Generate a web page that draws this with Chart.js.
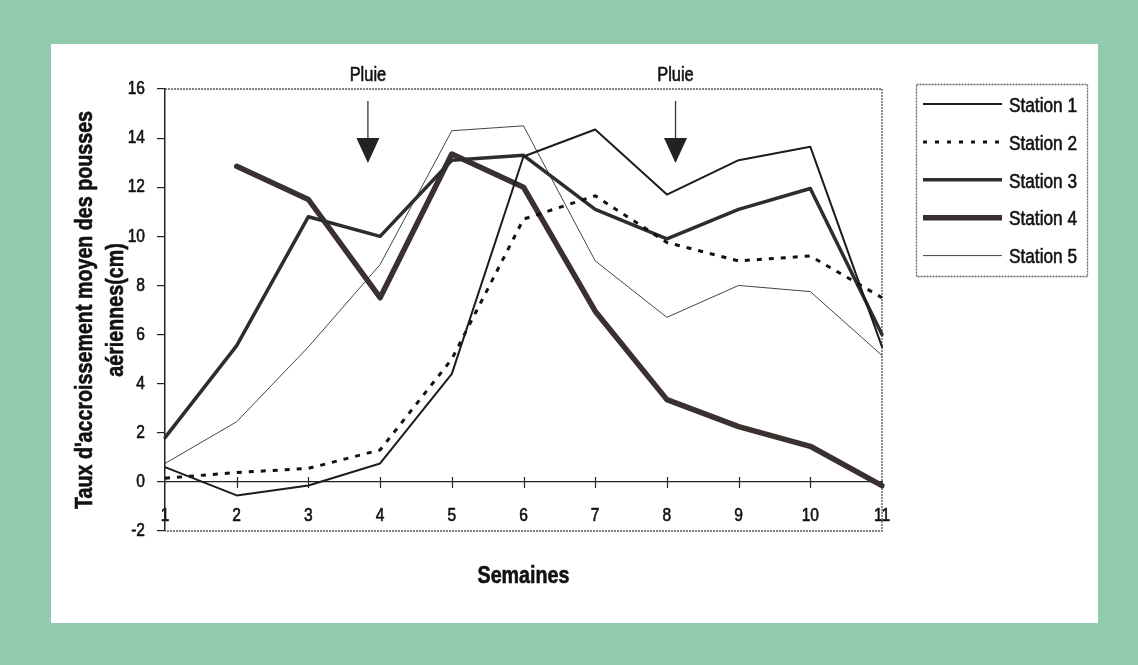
<!DOCTYPE html>
<html><head><meta charset="utf-8">
<script src="https://cdn.jsdelivr.net/npm/chart.js@4"></script>
<style>
html,body{margin:0;padding:0;}
body{width:1138px;height:665px;background:#90cbb0;position:relative;overflow:hidden;}
#panel{position:absolute;left:51px;top:44px;width:1047px;height:579px;background:#fff;}
#wrap{position:absolute;left:0;top:0;width:1138px;height:665px;}
</style></head><body>
<div id="panel"></div>
<div id="wrap"><canvas id="c" width="1138" height="665"></canvas></div>
<script>
const weeks = ['1','2','3','4','5','6','7','8','9','10','11'];
const station1 = [0.6, -0.55, -0.15, 0.75, 4.4, 13.25, 14.35, 11.7, 13.1, 13.65, 5.5];
const station2 = [0.15, 0.38, 0.55, 1.3, 5.0, 10.7, 11.65, 9.75, 9.0, 9.2, 7.5];
const station3 = [1.8, 5.55, 10.8, 10.0, 13.1, 13.3, 11.1, 9.9, 11.1, 11.95, 6.0];
const station4 = [null, 12.85, 11.5, 7.5, 13.35, 12.0, 6.95, 3.35, 2.25, 1.45, -0.15];
const station5 = [0.75, 2.45, 5.5, 8.85, 14.3, 14.5, 9.0, 6.7, 8.0, 7.75, 5.15];
const seriesNames = ['Station 1','Station 2','Station 3','Station 4','Station 5'];
const rainWeeks = [3.83, 8.12];
const rainLabel = 'Pluie';
const yTitle = ["Taux d'accroissement moyen des pousses", 'aériennes(cm)'];
const xTitle = 'Semaines';

const FAMILY = "'Liberation Sans Narrow', 'Arial Narrow', 'Liberation Sans', Arial, sans-serif";
Chart.defaults.font.family = FAMILY;
Chart.defaults.color = '#111';

// Condensed text rendering (narrow face is not installed): squeeze glyphs horizontally around their anchor.
const NARROW = 0.82;
const canvas = document.getElementById('c');
const c2d = canvas.getContext('2d');
const origFill = c2d.fillText.bind(c2d);
const origStroke = c2d.strokeText.bind(c2d);
const origMeasure = c2d.measureText.bind(c2d);
c2d.fillText = function(t, x, y, mw){
  this.save(); this.translate(x, y); this.scale(NARROW, 1);
  this.setLineDash([]);
  this.strokeStyle = this.fillStyle;
  this.lineWidth = 0.6;
  this.lineJoin = 'round';
  if (mw !== undefined) { origFill(t, 0, 0, mw / NARROW); origStroke(t, 0, 0, mw / NARROW); }
  else { origFill(t, 0, 0); origStroke(t, 0, 0); }
  this.restore();
};
c2d.measureText = function(t){
  const m = origMeasure(t);
  return {width: m.width * NARROW, actualBoundingBoxAscent: m.actualBoundingBoxAscent, actualBoundingBoxDescent: m.actualBoundingBoxDescent,
    actualBoundingBoxLeft: m.actualBoundingBoxLeft * NARROW, actualBoundingBoxRight: m.actualBoundingBoxRight * NARROW};
};

const styles = [
  {borderColor:'#1c1c1c', borderWidth:2, borderDash:[]},
  {borderColor:'#111', borderWidth:3, borderDash:[5,7]},
  {borderColor:'#2e2c2c', borderWidth:3.5, borderDash:[]},
  {borderColor:'#3a3030', borderWidth:5.5, borderDash:[]},
  {borderColor:'#444', borderWidth:1, borderDash:[]}
];
const allSeries = [station1, station2, station3, station4, station5];

const frame = {
  id:'frame',
  beforeDatasetsDraw(chart){
    const {ctx, chartArea:a, scales:{x,y}} = chart;
    ctx.save();
    ctx.strokeStyle = '#555';
    ctx.lineWidth = 1.3;
    ctx.setLineDash([2,1]);
    ctx.beginPath();
    ctx.moveTo(a.left, a.top); ctx.lineTo(a.right, a.top); ctx.lineTo(a.right, a.bottom); ctx.lineTo(a.left, a.bottom);
    ctx.stroke();
    ctx.setLineDash([]);
    const y0 = y.getPixelForValue(0);
    ctx.strokeStyle = '#222';
    ctx.lineWidth = 1.2;
    ctx.beginPath();
    for (let i = 1; i < weeks.length - 1; i++) {
      const px = Math.round(x.getPixelForValue(i)) + 0.5;
      ctx.moveTo(px, y0 - 5); ctx.lineTo(px, y0 + 6);
    }
    ctx.stroke();
    ctx.restore();
  },
  afterDraw(chart){
    const {ctx, scales:{x}} = chart;
    ctx.save();
    rainWeeks.forEach(w => {
      const px = x.getPixelForValue(w - 1);
      ctx.fillStyle = '#111';
      ctx.font = '20px ' + FAMILY;
      ctx.textAlign = 'center';
      ctx.textBaseline = 'middle';
      ctx.fillText(rainLabel, px, 75);
      ctx.strokeStyle = '#333';
      ctx.lineWidth = 1.3;
      ctx.beginPath(); ctx.moveTo(px, 101); ctx.lineTo(px, 140); ctx.stroke();
      ctx.fillStyle = '#222';
      ctx.beginPath(); ctx.moveTo(px - 11.5, 138); ctx.lineTo(px + 11.5, 138); ctx.lineTo(px, 163); ctx.closePath(); ctx.fill();
    });
    const L = 916.5, T = 84.5, W = 171, H = 192;
    ctx.strokeStyle = '#666';
    ctx.lineWidth = 1.3;
    ctx.setLineDash([2,1]);
    ctx.strokeRect(L, T, W, H);
    ctx.setLineDash([]);
    chart.data.datasets.forEach((ds, i) => {
      const cy = 104 + i * 37.9;
      ctx.strokeStyle = ds.borderColor;
      ctx.lineWidth = ds.borderWidth;
      ctx.setLineDash(ds.borderDash.length ? [4,8] : []);
      ctx.lineCap = 'butt';
      ctx.beginPath(); ctx.moveTo(923, cy); ctx.lineTo(1002, cy); ctx.stroke();
      ctx.setLineDash([]);
      ctx.fillStyle = '#111';
      ctx.font = '21px ' + FAMILY;
      ctx.textAlign = 'left';
      ctx.textBaseline = 'middle';
      ctx.fillText(ds.label, 1009, cy + 2);
    });
    ctx.restore();
  }
};

new Chart(canvas, {
  type:'line',
  data:{
    labels: weeks,
    datasets: allSeries.map((d, i) => ({
      label: seriesNames[i],
      data: d,
      borderColor: styles[i].borderColor,
      borderWidth: styles[i].borderWidth,
      borderDash: styles[i].borderDash,
      borderJoinStyle:'round',
      borderCapStyle: i === 1 ? 'butt' : 'round',
      pointRadius:0,
      tension:0,
      fill:false,
      spanGaps:false
    }))
  },
  options:{
    responsive:false,
    animation:false,
    layout:{padding:{left:60, right:256, top:89, bottom:134}},
    plugins:{legend:{display:false}, tooltip:{enabled:false}},
    scales:{
      x:{
        type:'category',
        offset:false,
        position:{y:0},
        grid:{display:false, drawTicks:false},
        border:{display:true, color:'#222', width:1.2},
        ticks:{font:{size:19}, color:'#111', padding:22, autoSkip:false, maxRotation:0},
        title:{display:true, text:xTitle, font:{size:24, weight:'bold', lineHeight:1.2}, color:'#111', padding:{top:13, bottom:0}}
      },
      y:{
        min:-2, max:16,
        afterFit(s){ s.width = 105; },
        grid:{drawOnChartArea:false, drawTicks:true, tickLength:8, color:'#222', lineWidth:1.2},
        border:{display:true, color:'#222', width:1.5},
        ticks:{stepSize:2, font:{size:19}, color:'#111', padding:12},
        title:{display:true, text:yTitle, font:{size:24, weight:'bold', lineHeight:1.3}, color:'#111', padding:{top:10, bottom:0}}
      }
    }
  },
  plugins:[frame]
});
</script>
</body></html>
